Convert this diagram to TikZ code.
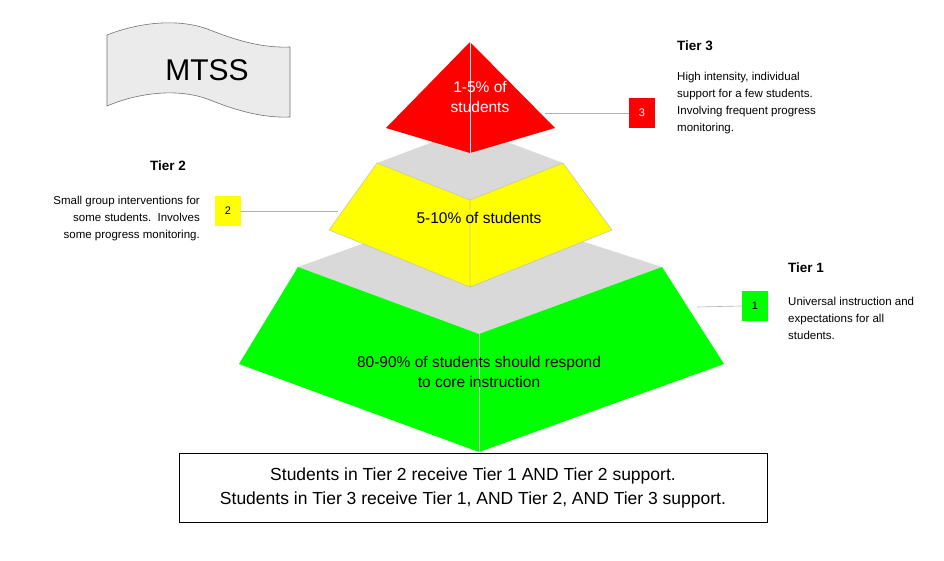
\documentclass[tikz,border=0pt]{standalone}
\usepackage{fontspec}
\setmainfont{Liberation Sans}
\definecolor{gtop}{RGB}{217,217,217}
\definecolor{gr}{RGB}{0,255,0}
\definecolor{ye}{RGB}{255,255,0}
\definecolor{re}{RGB}{255,0,0}
\begin{document}
\begin{tikzpicture}[x=1pt,y=-1pt,
  face/.style={draw=black!25,line width=0.5pt},
  conn/.style={draw=black!30,line width=0.6pt},
  tbox/.style={minimum width=26pt,minimum height=30pt,inner sep=0pt,font=\fontsize{11}{12}\selectfont},
  desc/.style={font=\fontsize{11.5}{17}\selectfont,inner sep=0pt,align=left},
  ttl/.style={font=\bfseries\fontsize{13.5}{14}\selectfont,inner sep=0pt,anchor=west}]
\useasboundingbox (0,0) rectangle (944,560);
% banner
\draw[fill=black!8,draw=black!55,line width=0.6pt] (107,35) .. controls (140,22) and (180,18) .. (210,30) .. controls (240,42) and (265,48) .. (290,47) -- (290,117) .. controls (265,118) and (240,112) .. (210,100) .. controls (180,88) and (140,92) .. (107,106) -- cycle;
\node[font=\fontsize{30}{32}\selectfont] (mtss) at (207,70) {MTSS};
% tier 1
\fill[gtop] (298,267) -- (470,205) -- (662,267) -- (479,334) -- cycle;
\fill[gr] (298,267) -- (239,364) -- (479,452) -- (479,334) -- cycle;
\fill[gr] (479,334) -- (479,452) -- (724,364) -- (662,267) -- cycle;
\draw[black!10,line width=0.5pt] (479,334) -- (479,452);
% tier 2
\fill[gtop] (377,163) -- (470,128) -- (563,163) -- (470,200) -- cycle;
\fill[ye,face] (377,163) -- (329,230) -- (470,287) -- (470,200) -- cycle;
\fill[ye,face] (470,200) -- (470,287) -- (612,230) -- (563,163) -- cycle;
% tier 3
\fill[re] (470,42) -- (386,128) -- (470,153) -- (555,128) -- cycle;
\draw[black!10,line width=0.5pt] (470,42) -- (470,153);
% texts in pyramid
\node[white,font=\fontsize{15.5}{20}\selectfont,align=center] (t3txt) at (480,97) {1-5\% of\\students};
\node[font=\fontsize{15.5}{18}\selectfont] (t2txt) at (479,218) {5-10\% of students};
\node[font=\fontsize{15.5}{20}\selectfont,align=center] (t1txt) at (479,372) {80-90\% of students should respond\\to core instruction};
% anchors for connectors
\coordinate (c3) at (545,113);
\coordinate (c2) at (338,211);
\coordinate (c1) at (697,307);
% tier boxes
\node[tbox,fill=re,text=white] (b3) at (642,113) {3};
\node[tbox,fill=ye] (b2) at (228,211) {2};
\node[tbox,fill=gr] (b1) at (755,306) {1};
\draw[conn] (c3) -- (b3.west);
\draw[conn] (b2.east) -- (c2);
\draw[conn] (c1) -- (b1.west);
% side text
\node[ttl] (h3) at (677,46) {Tier 3};
\node[desc,anchor=north west] (d3) at (677,72) {High intensity, individual\\support for a few students.\\Involving frequent progress\\monitoring.};
\node[ttl] (h2) at (150,166) {Tier 2};
\node[desc,anchor=north east,align=right] (d2) at (200,196) {Small group interventions for\\some students.\ \ Involves\\some progress monitoring.};
\node[ttl] (h1) at (788,268) {Tier 1};
\node[desc,anchor=north west] (d1) at (788,297) {Universal instruction and\\expectations for all\\students.};
% bottom box
\node[draw=black,line width=0.8pt,minimum width=588pt,minimum height=69pt,align=center,font=\fontsize{17.5}{24}\selectfont] (note) at (473,487.5) {Students in Tier 2 receive Tier 1 AND Tier 2 support.\\Students in Tier 3 receive Tier 1, AND Tier 2, AND Tier 3 support.};
\end{tikzpicture}
\end{document}
